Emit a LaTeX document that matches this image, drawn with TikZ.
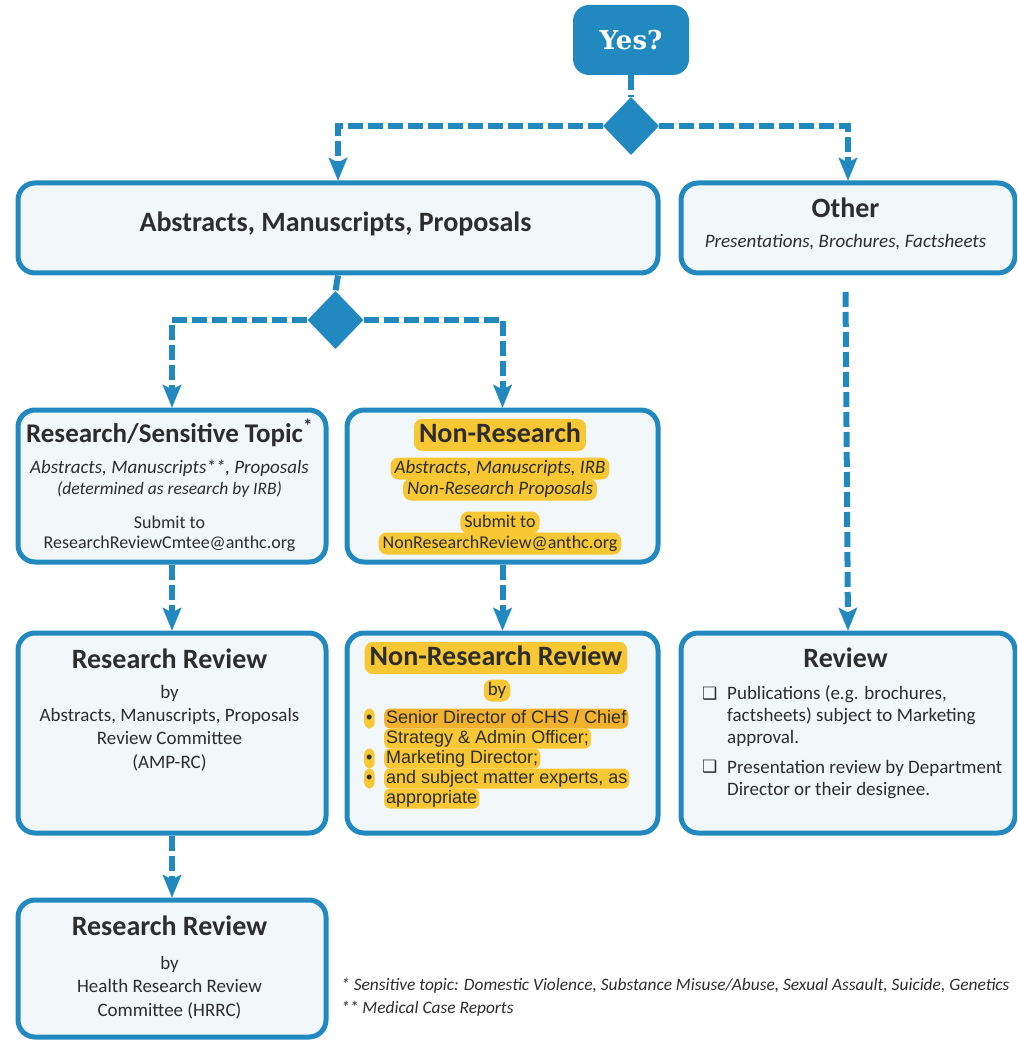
\documentclass[tikz,border=0pt]{standalone}
\usepackage{fontspec}
\setmainfont{Carlito}
\newfontfamily\arialfont{Liberation Sans}
\newfontfamily\slabfont{DejaVu Serif}
\newfontfamily\symfont{DejaVu Sans}
\usetikzlibrary{arrows.meta,shapes.geometric}

\definecolor{flowblue}{RGB}{34,137,192}
\definecolor{boxfill}{RGB}{242,247,250}
\definecolor{inktext}{RGB}{45,45,45}
\definecolor{hlyellow}{RGB}{247,199,52}
\definecolor{hlorange}{RGB}{242,178,46}

\tikzset{
  box/.style={draw=flowblue, line width=5pt, fill=boxfill, rounded corners=17pt,
    anchor=north west, inner sep=0pt},
  flow/.style={draw=flowblue, line width=6pt, dash pattern=on 15pt off 5pt},
  flowarrow/.style={flow, -{Stealth[length=23pt,width=19pt,inset=5pt,line width=0.1pt]}},
  decision/.style={diamond, fill=flowblue, inner sep=0pt, minimum width=56pt, minimum height=58pt},
  heading/.style={anchor=base, text=inktext, font=\fontsize{28}{32}\selectfont\bfseries},
  body/.style={anchor=base, text=inktext, align=center, font=\fontsize{19}{23.3}\selectfont},
  slant/.style={anchor=base, text=inktext, align=center, font=\fontsize{19}{23}\selectfont\itshape},
  small/.style={anchor=base, text=inktext, font=\fontsize{18}{21}\selectfont},
  hl/.style={fill=hlyellow, rounded corners=8pt, inner xsep=4pt, inner ysep=2pt},
  hlhead/.style={hl, text height=20pt, text depth=6pt, inner ysep=3pt, inner xsep=5pt},
  hlline/.style={hl, text height=14pt, text depth=5pt, inner ysep=1.5pt},
  bulletline/.style={hl, anchor=base west, text=inktext, inner xsep=2pt, inner ysep=1pt,
    rounded corners=6pt, text height=13.5pt, text depth=4.5pt,
    font=\arialfont\fontsize{18}{20}\selectfont},
  tickbox/.style={anchor=base west, inner sep=0pt, text=inktext, font=\symfont\fontsize{17}{19}\selectfont},
  ticklist/.style={anchor=base west, align=left, inner sep=0pt, text=inktext,
    font=\fontsize{19}{22}\selectfont},
  note/.style={anchor=base west, inner sep=0pt, text=inktext, font=\fontsize{17.4}{21}\selectfont\itshape},
}

\begin{document}
\begin{tikzpicture}[x=1pt,y=-1pt]

\clip (0,0) rectangle (1017,1040);

% decision points
\node[fill=flowblue, rounded corners=16pt, minimum width=116pt, minimum height=70pt,
  inner sep=0pt, text=white, font=\slabfont\bfseries\fontsize{26}{30}\selectfont] (yes) at (631,40) {Yes?};
\node[decision] (d1) at (631,126) {};
\node[decision] (d2) at (335.5,320) {};

% boxes
\node[box, minimum width=640pt, minimum height=90pt] (amp) at (15.5,180.5) {};
\node[box, minimum width=334pt, minimum height=90pt] (other) at (678.5,180.5) {};
\node[box, minimum width=308pt, minimum height=152pt] (res) at (15.5,407.5) {};
\node[box, minimum width=311pt, minimum height=152pt] (nonres) at (344.5,407.5) {};
\node[box, minimum width=308pt, minimum height=200pt] (rr) at (15.5,630.5) {};
\node[box, minimum width=311pt, minimum height=200pt] (nrr) at (344.5,630.5) {};
\node[box, minimum width=334pt, minimum height=200pt] (review) at (678.5,630.5) {};
\node[box, minimum width=308pt, minimum height=137pt] (hrrc) at (15.5,897.5) {};

% top row
\node[heading] (amptitle) at (335.5,232) {Abstracts, Manuscripts, Proposals};
\node[heading] (othertitle) at (845.5,218) {Other};
\node[slant] (othersub) at (845.5,248) {Presentations, Brochures, Factsheets};

% research / sensitive topic
\node[heading, font=\fontsize{27}{32}\selectfont\bfseries] (restitle) at (169.5,442) {Research/Sensitive Topic\textsuperscript{*}};
\node[slant] (resline1) at (169.5,473) {Abstracts, Manuscripts**, Proposals};
\node[slant, font=\fontsize{17.5}{21}\selectfont\itshape] (resline2) at (169.5,494) {(determined as research by IRB)};
\node[small] (ressubmit) at (169.5,528) {Submit to};
\node[small] (resmail) at (169.5,548) {ResearchReviewCmtee@anthc.org};

% non-research
\node[heading, hlhead] (nrtitle) at (500,442) {Non-Research};
\node[slant, hlline] (nrline1) at (500,473) {Abstracts, Manuscripts, IRB};
\node[slant, hlline] (nrline2) at (500,494) {Non-Research Proposals};
\node[small, hlline] (nrsubmit) at (500,527) {Submit to};
\node[small, hlline] (nrmail) at (500,548) {NonResearchReview@anthc.org};

% research review (AMP-RC), base = last line
\node[heading] (rrtitle) at (169.5,668) {Research Review};
\node[body] (rrtext) at (169.5,768) {by\\Abstracts, Manuscripts, Proposals\\Review Committee\\(AMP-RC)};

% non-research review
\node[heading, hlhead] (nrrtitle) at (496,665) {Non-Research Review};
\node[body, hlline] (nrrby) at (497,695) {by};
\node[bulletline] (nrrdot1) at (364,723) {\textbullet};
\node[bulletline, fill=hlorange] (nrrb1) at (384,723) {Senior Director of CHS / Chief};
\node[bulletline] (nrrb2) at (384,743) {Strategy \& Admin Officer;};
\node[bulletline] (nrrdot2) at (364,763) {\textbullet};
\node[bulletline] (nrrb3) at (384,763) {Marketing Director;};
\node[bulletline] (nrrdot3) at (364,783) {\textbullet};
\node[bulletline] (nrrb4) at (384,783) {and subject matter experts, as};
\node[bulletline] (nrrb5) at (384,803) {appropriate};

% other review
\node[heading] (reviewtitle) at (845.5,667) {Review};
\node[tickbox] (tick1) at (702,699) {❑};
\node[ticklist] (item1) at (727,743) {Publications (e.g. brochures,\\factsheets) subject to Marketing\\approval.};
\node[tickbox] (tick2) at (702,772) {❑};
\node[ticklist] (item2) at (727,795) {Presentation review by Department\\Director or their designee.};

% research review (HRRC)
\node[heading] (hrrctitle) at (169.5,935) {Research Review};
\node[body] (hrrctext) at (169.5,1016) {by\\Health Research Review\\Committee (HRRC)};

% footnotes
\node[note] (note1) at (341,990) {* Sensitive topic: Domestic Violence, Substance Misuse/Abuse, Sexual Assault, Suicide, Genetics};
\node[note] (note2) at (341,1013) {** Medical Case Reports};

% connectors
\coordinate (otherout) at (845.5,292);
\draw[flow] (yes.south) -- (d1.north);
\draw[flowarrow] (d1.west) -| (amp.north);
\draw[flowarrow] (d1.east) -| (other.north);
\draw[flow] (amp.south) -- (d2.north);
\draw[flowarrow] (d2.west) -| (res.north);
\draw[flowarrow] (d2.east) -| (nonres.north);
\draw[flowarrow] (otherout) -- (review.north);
\draw[flowarrow] (res.south) -- (rr.north);
\draw[flowarrow] (nonres.south) -- (nrr.north);
\draw[flowarrow] (rr.south) -- (hrrc.north);

\end{tikzpicture}
\end{document}
